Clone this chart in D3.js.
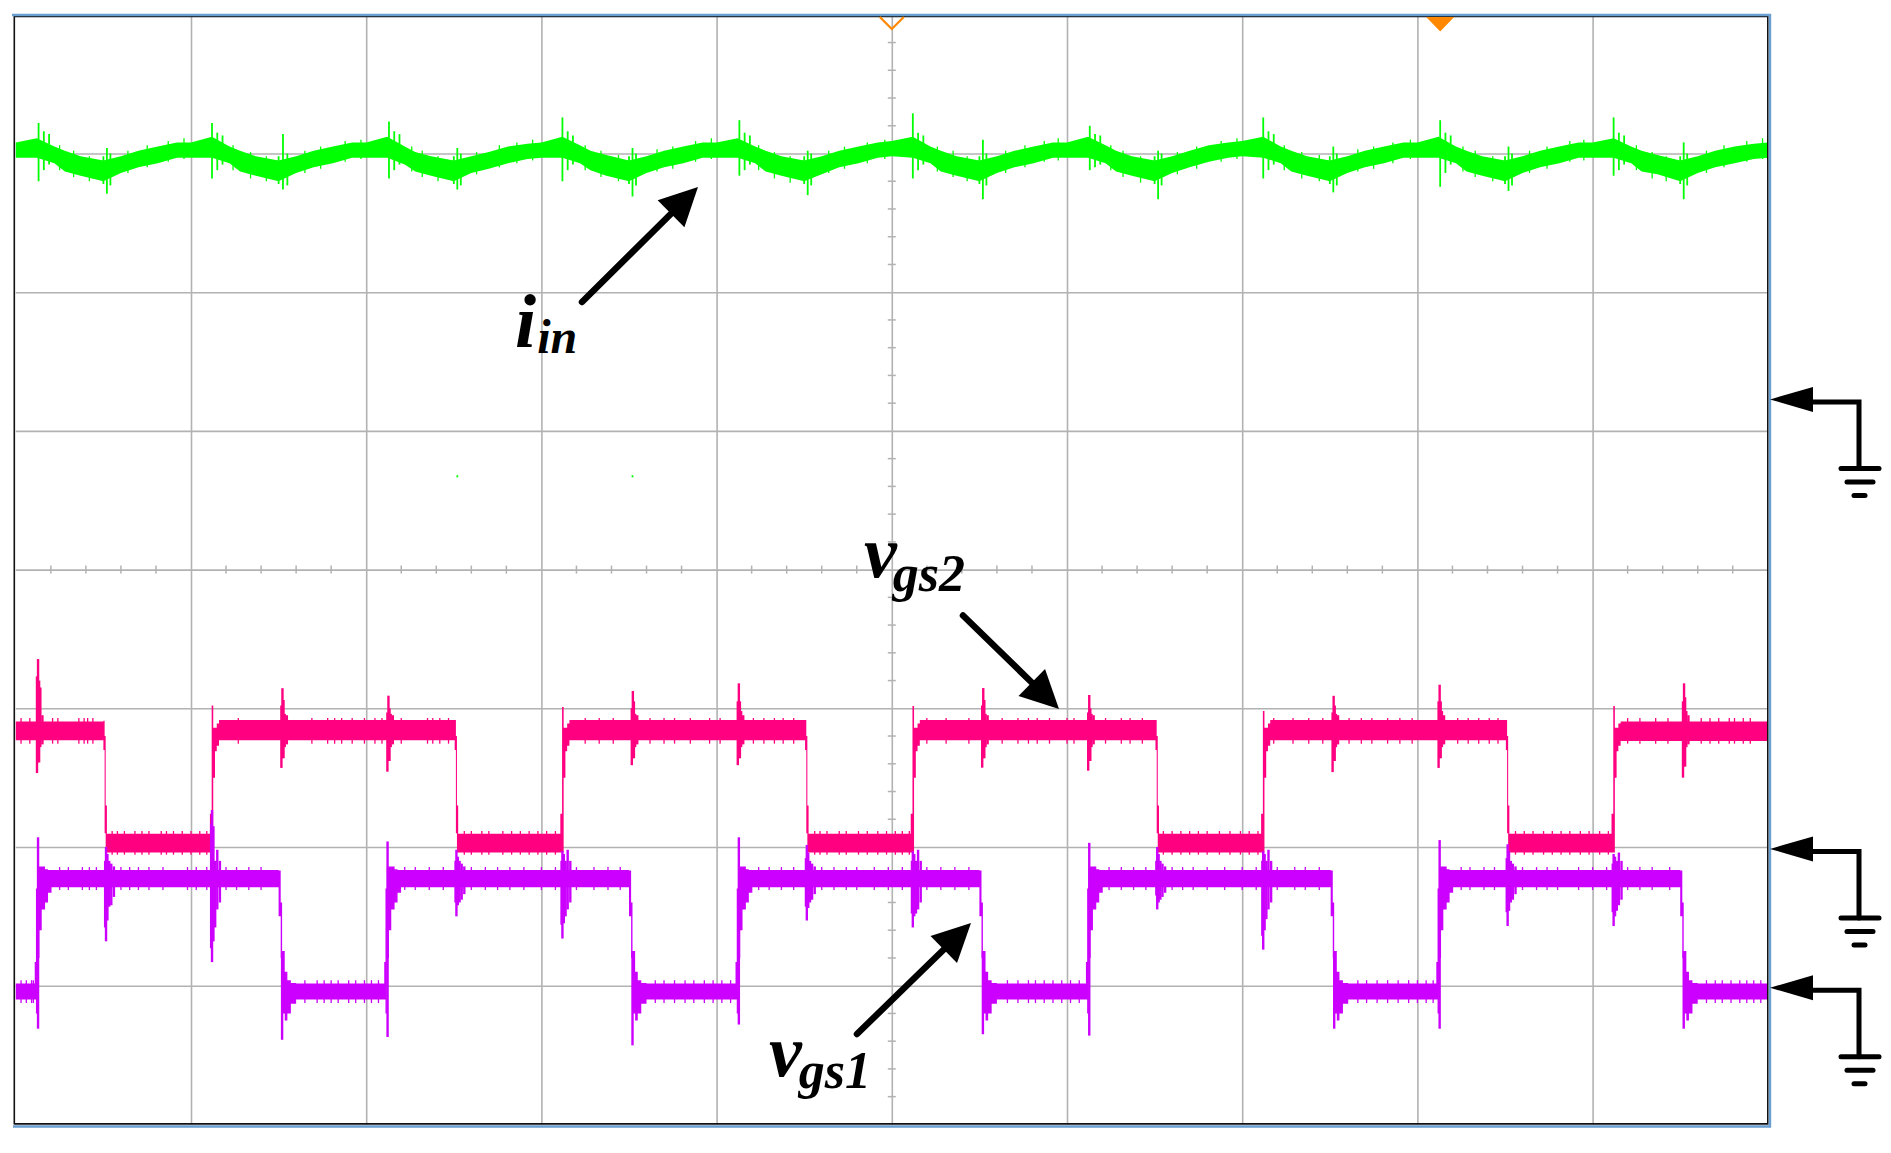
<!DOCTYPE html>
<html>
<head>
<meta charset="utf-8">
<script src="https://cdn.jsdelivr.net/npm/d3@7"></script>
<style>
  body { margin: 0; background: #fff; }
  text { font-family: "Liberation Serif", serif; font-weight: bold; font-style: italic; fill: #000; }
</style>
</head>
<body>
<svg id="scope"></svg>
<script>
// all values are in scope divisions: time 0..10, level -4..4 around the centre line

// iin envelope
const greenTime = [
  0,.12,.22,.28,.37,.50,.60,.70,.81,.92,
  1,1.12,1.22,1.28,1.37,1.50,1.60,1.70,1.81,1.92,
  2,2.12,2.22,2.28,2.37,2.50,2.60,2.70,2.81,2.92,
  3,3.12,3.22,3.28,3.37,3.50,3.60,3.70,3.81,3.92,
  4,4.12,4.22,4.28,4.37,4.50,4.60,4.70,4.81,4.92,
  5,5.12,5.22,5.28,5.37,5.50,5.60,5.70,5.81,5.92,
  6,6.12,6.22,6.28,6.37,6.50,6.60,6.70,6.81,6.92,
  7,7.12,7.22,7.28,7.37,7.50,7.60,7.70,7.81,7.92,
  8,8.12,8.22,8.28,8.37,8.50,8.60,8.70,8.81,8.92,
  9,9.12,9.22,9.28,9.37,9.50,9.60,9.70,9.81,9.92, 10
];
const greenTop = [
  3.08,3.11,3.05,3.02,2.98,2.95,2.98,3.02,3.05,3.08,
  3.08,3.12,3.05,3.02,2.98,2.95,2.98,3.02,3.05,3.08,
  3.08,3.12,3.05,3.01,2.98,2.95,2.98,3.01,3.05,3.07,
  3.08,3.12,3.06,3.02,2.99,2.95,2.98,3.02,3.05,3.08,
  3.08,3.11,3.05,3.02,2.98,2.95,2.98,3.02,3.05,3.08,
  3.09,3.12,3.05,3.02,2.98,2.95,2.98,3.02,3.05,3.08,
  3.08,3.12,3.06,3.02,2.98,2.95,2.98,3.02,3.06,3.08,
  3.09,3.12,3.05,3.02,2.98,2.95,2.98,3.02,3.05,3.08,
  3.08,3.12,3.05,3.02,2.98,2.95,2.98,3.02,3.05,3.08,
  3.08,3.11,3.05,3.02,2.99,2.95,2.98,3.02,3.05,3.07, 3.08
];
const greenBottom = [
  2.97,2.97,2.93,2.87,2.84,2.80,2.86,2.90,2.93,2.97,
  2.97,2.97,2.93,2.87,2.84,2.80,2.86,2.90,2.93,2.97,
  2.97,2.97,2.92,2.87,2.84,2.80,2.86,2.89,2.93,2.96,
  2.97,2.97,2.93,2.88,2.84,2.80,2.86,2.90,2.93,2.97,
  2.97,2.97,2.93,2.87,2.84,2.80,2.85,2.90,2.93,2.97,
  2.98,2.97,2.93,2.87,2.84,2.80,2.86,2.90,2.93,2.97,
  2.97,2.97,2.93,2.87,2.84,2.80,2.86,2.90,2.94,2.97,
  2.98,2.97,2.93,2.87,2.84,2.80,2.86,2.90,2.93,2.97,
  2.97,2.97,2.93,2.87,2.84,2.80,2.86,2.90,2.93,2.97,
  2.97,2.97,2.93,2.87,2.85,2.80,2.86,2.90,2.93,2.96, 2.97
];

// iin spikes at each switching edge, with the smaller teeth beside them and two stray dots
const greenSpikeTime = [
  .13,.16,.19,.50,.52,.54, 1.12,1.15,1.18,1.50,1.525,1.55, 2.13,2.16,2.19,2.50,2.52,2.54,
  3.12,3.15,3.18,3.50,3.52,3.54, 4.13,4.16,4.19,4.50,4.52,4.54, 5.12,5.15,5.18,5.50,5.52,5.54,
  6.13,6.16,6.19,6.50,6.52,6.54, 7.12,7.15,7.18,7.50,7.52,7.54, 8.13,8.16,8.19,8.50,8.52,8.54,
  9.12,9.15,9.18,9.50,9.52,9.54, 2.52,3.52
];
const greenSpikeTop = [
  3.22,3.16,3.14,2.98,3.04,3.00, 3.22,3.15,3.13,2.98,3.14,3.00, 3.23,3.16,3.14,2.98,3.04,3.00,
  3.26,3.16,3.13,2.98,3.04,3.00, 3.24,3.15,3.13,2.98,3.02,3.00, 3.29,3.15,3.13,2.98,3.10,3.00,
  3.20,3.14,3.13,2.98,3.02,3.00, 3.26,3.16,3.14,2.98,3.05,3.00, 3.24,3.15,3.13,2.98,3.05,3.00,
  3.26,3.15,3.13,2.98,3.08,3.00, .68,.68
];
const greenSpikeBottom = [
  2.80,2.88,2.92,2.78,2.71,2.77, 2.82,2.88,2.92,2.78,2.74,2.77, 2.82,2.88,2.92,2.78,2.74,2.77,
  2.80,2.88,2.92,2.78,2.69,2.77, 2.84,2.88,2.92,2.78,2.70,2.77, 2.82,2.88,2.92,2.78,2.67,2.77,
  2.88,2.90,2.92,2.78,2.67,2.77, 2.82,2.88,2.92,2.78,2.72,2.77, 2.76,2.86,2.92,2.78,2.73,2.77,
  2.84,2.88,2.92,2.78,2.67,2.77, .665,.665
];

// iin noise along the slopes
const greenToothTime = [
  .25,.33,.42,.64,.75,.87,.96, 1.24,1.34,1.43,1.65,1.74,1.88,1.97, 2.26,2.32,2.41,2.63,2.76,2.86,2.95,
  3.25,3.34,3.44,3.66,3.75,3.88,3.97, 4.24,4.33,4.42,4.64,4.73,4.86,4.96, 5.26,5.35,5.43,5.65,5.76,5.87,5.95,
  6.25,6.32,6.42,6.63,6.74,6.88,6.97, 7.24,7.34,7.44,7.66,7.75,7.86,7.96, 8.26,8.33,8.43,8.64,8.74,8.87,8.95,
  9.25,9.34,9.42,9.65,9.75,9.88,9.97
];
const greenToothTop = [
  3.06,3.02,2.98,3.02,3.06,3.09,3.11, 3.06,3.01,2.98,3.02,3.05,3.09,3.10, 3.05,3.02,2.98,3.01,3.06,3.08,3.10,
  3.06,3.02,2.99,3.03,3.05,3.09,3.11, 3.06,3.01,2.98,3.02,3.05,3.08,3.10, 3.05,3.02,2.98,3.02,3.06,3.09,3.11,
  3.06,3.02,2.98,3.01,3.05,3.09,3.11, 3.06,3.01,2.99,3.03,3.05,3.08,3.10, 3.05,3.02,2.98,3.02,3.05,3.09,3.10,
  3.06,3.01,2.98,3.02,3.06,3.09,3.11
];
const greenToothBottom = [
  2.88,2.83,2.80,2.86,2.90,2.94,2.96, 2.88,2.82,2.80,2.86,2.89,2.94,2.96, 2.87,2.83,2.80,2.85,2.90,2.93,2.95,
  2.88,2.83,2.80,2.87,2.89,2.94,2.96, 2.88,2.82,2.79,2.86,2.89,2.93,2.96, 2.87,2.83,2.80,2.86,2.90,2.94,2.95,
  2.88,2.83,2.79,2.85,2.89,2.94,2.96, 2.88,2.82,2.80,2.87,2.89,2.93,2.96, 2.87,2.83,2.80,2.86,2.89,2.94,2.95,
  2.88,2.82,2.80,2.86,2.90,2.94,2.96
];

// vgs2 envelope
const pinkTime = [
  0, .50,.507,.513,.52, 1.108,1.118,1.127,1.137,1.147,1.16,
  2.505,2.512,2.518,2.525, 3.108,3.118,3.127,3.137,3.147,3.16,
  4.505,4.512,4.518,4.525, 5.108,5.118,5.127,5.137,5.147,5.16,
  6.505,6.512,6.518,6.525, 7.108,7.118,7.127,7.137,7.147,7.16,
  8.505,8.512,8.518,8.525, 9.108,9.118,9.127,9.137,9.147,9.16, 10
];
const pinkTop = [
  -1.095, -1.09,-1.20,-1.70,-1.905, -1.76,-.98,-1.14,-1.14,-1.11,-1.085,
  -1.085,-1.20,-1.70,-1.905, -1.76,-.99,-1.14,-1.14,-1.11,-1.085,
  -1.085,-1.20,-1.70,-1.905, -1.76,-.983,-1.14,-1.14,-1.11,-1.085,
  -1.085,-1.20,-1.70,-1.905, -1.76,-1.02,-1.14,-1.14,-1.11,-1.085,
  -1.085,-1.20,-1.70,-1.905, -1.76,-.983,-1.14,-1.14,-1.11,-1.095, -1.095
];
const pinkBottom = [
  -1.23, -1.30,-1.90,-2.04,-2.04, -2.04,-2.04,-1.50,-1.31,-1.27,-1.23,
  -1.30,-1.90,-2.04,-2.04, -2.04,-2.04,-1.50,-1.31,-1.27,-1.23,
  -1.30,-1.90,-2.04,-2.04, -2.04,-2.04,-1.50,-1.31,-1.27,-1.23,
  -1.30,-1.90,-2.04,-2.04, -2.04,-2.04,-1.50,-1.31,-1.27,-1.23,
  -1.30,-1.90,-2.04,-2.04, -2.04,-2.04,-1.50,-1.31,-1.27,-1.235, -1.235
];

// vgs2 spikes, one row for each spike with its decay
const pinkSpikeTime = [
  .121,.127,.133,.140,.152,
  1.516,1.522,1.528,1.535,1.547,
  2.121,2.127,2.133,2.140,2.152,
  3.516,3.522,3.528,3.535,3.547,
  4.121,4.127,4.133,4.140,4.152,
  5.516,5.522,5.528,5.535,5.547,
  6.121,6.127,6.133,6.140,6.152,
  7.516,7.522,7.528,7.535,7.547,
  8.121,8.127,8.133,8.140,8.152,
  9.516,9.522,9.528,9.535,9.547
];
const pinkSpikeTop = [
  -.77,-.645,-.80,-.85,-1.05,
  -.98,-.855,-.94,-1.04,-1.05,
  -1.03,-.909,-1.0,-1.04,-1.05,
  -1.0,-.875,-.95,-1.04,-1.05,
  -.95,-.82,-.95,-1.02,-1.05,
  -.98,-.854,-.94,-1.04,-1.05,
  -1.03,-.904,-1.0,-1.04,-1.05,
  -1.03,-.91,-.98,-1.04,-1.05,
  -.95,-.83,-.95,-1.02,-1.05,
  -.95,-.82,-.92,-1.02,-1.05
];
const pinkSpikeBottom = [
  -1.467,-1.39,-1.39,-1.28,-1.26,
  -1.43,-1.36,-1.36,-1.28,-1.26,
  -1.457,-1.38,-1.38,-1.28,-1.26,
  -1.41,-1.36,-1.36,-1.28,-1.26,
  -1.41,-1.36,-1.36,-1.28,-1.26,
  -1.428,-1.36,-1.36,-1.28,-1.26,
  -1.45,-1.38,-1.38,-1.28,-1.26,
  -1.46,-1.38,-1.38,-1.28,-1.26,
  -1.43,-1.36,-1.36,-1.28,-1.26,
  -1.50,-1.42,-1.42,-1.28,-1.26
];

// vgs1 envelope
const purpleTime = [
  0, .108,.115,.123,.135,.148,.167,.184,.204,
  1.50,1.512,1.52,1.535,1.55,1.57,1.60,
  2.103,2.11,2.118,2.13,2.143,2.162,2.179,2.199,
  3.50,3.512,3.52,3.535,3.55,3.57,3.60,
  4.108,4.115,4.123,4.135,4.148,4.167,4.184,4.204,
  5.50,5.512,5.52,5.535,5.55,5.57,5.60,
  6.108,6.115,6.123,6.135,6.148,6.167,6.184,6.204,
  7.505,7.517,7.525,7.54,7.555,7.575,7.605,
  8.108,8.115,8.123,8.135,8.148,8.167,8.184,8.204,
  9.50,9.512,9.52,9.535,9.55,9.57,9.60, 10
];
const purpleTop = [
  -2.985, -2.83,-2.30,-2.14,-2.14,-2.14,-2.16,-2.165,-2.165,
  -2.17,-2.40,-2.75,-2.90,-2.96,-2.98,-2.985,
  -2.83,-2.30,-2.14,-2.14,-2.14,-2.16,-2.165,-2.165,
  -2.17,-2.40,-2.75,-2.90,-2.96,-2.98,-2.985,
  -2.83,-2.30,-2.14,-2.14,-2.14,-2.16,-2.165,-2.165,
  -2.17,-2.40,-2.75,-2.90,-2.96,-2.98,-2.985,
  -2.83,-2.30,-2.14,-2.14,-2.14,-2.16,-2.165,-2.165,
  -2.17,-2.40,-2.75,-2.90,-2.96,-2.98,-2.985,
  -2.83,-2.30,-2.14,-2.14,-2.14,-2.16,-2.165,-2.165,
  -2.17,-2.40,-2.75,-2.90,-2.96,-2.98,-2.985, -2.985
];
const purpleBottom = [
  -3.10, -3.10,-3.20,-2.80,-2.60,-2.45,-2.40,-2.33,-2.29,
  -2.50,-2.80,-3.20,-3.25,-3.20,-3.13,-3.10,
  -3.10,-3.20,-2.80,-2.60,-2.45,-2.40,-2.33,-2.29,
  -2.50,-2.80,-3.20,-3.25,-3.20,-3.13,-3.10,
  -3.10,-3.20,-2.80,-2.60,-2.45,-2.40,-2.33,-2.29,
  -2.50,-2.80,-3.20,-3.25,-3.20,-3.13,-3.10,
  -3.10,-3.20,-2.80,-2.60,-2.45,-2.40,-2.33,-2.29,
  -2.50,-2.80,-3.20,-3.25,-3.20,-3.13,-3.10,
  -3.10,-3.20,-2.80,-2.60,-2.45,-2.40,-2.33,-2.29,
  -2.50,-2.80,-3.20,-3.25,-3.20,-3.13,-3.10, -3.10
];

// vgs1 spikes: the rising and falling overshoots, then the ringing at each vgs2 edge
const purpleSpikeTime = [
  .127,2.122,4.127,6.127,8.127, 1.52,3.52,5.52,7.525,9.52,
  .51,.515,.523,.533,.545,.56,
  1.115,1.12,1.128,1.138,1.15,1.165,
  2.51,2.515,2.523,2.533,2.545,2.56,
  3.115,3.12,3.128,3.138,3.15,3.165,
  4.51,4.515,4.523,4.533,4.545,4.56,
  5.115,5.12,5.128,5.138,5.15,5.165,
  6.51,6.515,6.523,6.533,6.545,6.56,
  7.115,7.12,7.128,7.138,7.15,7.165,
  8.51,8.515,8.523,8.533,8.545,8.56,
  9.115,9.12,9.128,9.138,9.15,9.165
];
const purpleSpikeTop = [
  -1.93,-1.96,-1.93,-1.97,-1.95, -2.75,-2.75,-2.75,-2.75,-2.75,
  -2.10,-2.0,-2.05,-2.10,-2.12,-2.14,
  -1.83,-1.733,-1.85,-2.10,-2.02,-2.10,
  -2.10,-2.02,-2.07,-2.10,-2.12,-2.14,
  -2.10,-2.03,-2.05,-2.10,-2.02,-2.10,
  -2.08,-1.985,-2.04,-2.10,-2.12,-2.14,
  -2.10,-2.03,-2.05,-2.10,-2.02,-2.10,
  -2.10,-2.0,-2.05,-2.10,-2.12,-2.14,
  -2.10,-2.03,-2.05,-2.10,-2.02,-2.10,
  -2.08,-1.98,-2.03,-2.10,-2.12,-2.14,
  -2.12,-2.05,-2.07,-2.10,-2.04,-2.10
];
const purpleSpikeBottom = [
  -3.31,-3.37,-3.28,-3.36,-3.31, -3.39,-3.43,-3.35,-3.31,-3.31,
  -2.58,-2.68,-2.53,-2.43,-2.42,-2.36,
  -2.73,-2.83,-2.68,-2.58,-2.45,-2.40,
  -2.40,-2.50,-2.42,-2.40,-2.38,-2.34,
  -2.56,-2.66,-2.55,-2.50,-2.45,-2.40,
  -2.43,-2.53,-2.44,-2.40,-2.38,-2.34,
  -2.48,-2.58,-2.50,-2.48,-2.45,-2.40,
  -2.35,-2.45,-2.40,-2.38,-2.36,-2.33,
  -2.64,-2.74,-2.60,-2.52,-2.45,-2.40,
  -2.47,-2.57,-2.46,-2.40,-2.38,-2.34,
  -2.47,-2.57,-2.50,-2.46,-2.42,-2.38
];

// noise teeth along the flat parts of the two gate traces
const pinkHighTeeth = [
  .03,.08,.21,.24,.36,.39,.41,.44,
  1.27,1.69,1.78,1.82,1.86,1.92,1.99,2.05,2.09,2.2,2.35,2.38,2.42,2.47,
  3.25,3.33,3.41,3.62,3.7,3.76,3.85,3.96,4.02,4.21,4.27,4.33,4.38,4.44,
  5.2,5.31,5.44,5.63,5.72,5.78,5.83,5.9,6.0,6.04,6.22,6.31,6.36,6.43,
  7.18,7.29,7.38,7.46,7.61,7.68,7.74,7.83,7.9,7.97,8.23,8.29,8.35,8.41,8.46,
  9.2,9.27,9.36,9.43,9.62,9.67,9.72,9.78,9.81,9.86,9.9
];
const pinkLowTeeth = [
  .55,.58,.62,.68,.72,.76,.83,.86,.9,.95,1.0,1.05,1.09,
  2.56,2.6,2.66,2.7,2.78,2.83,2.88,2.93,2.98,3.03,3.08,
  4.56,4.59,4.63,4.7,4.74,4.81,4.86,4.92,4.97,5.02,5.06,5.1,
  6.55,6.6,6.65,6.7,6.75,6.8,6.87,6.93,6.99,7.04,7.09,
  8.56,8.61,8.66,8.72,8.77,8.82,8.87,8.93,8.98,9.04,9.09
];
const purpleHighTeeth = [
  .25,.3,.38,.42,.46,.6,.65,.7,.76,.84,.98,1.03,1.09,1.2,1.26,1.33,1.4,
  2.22,2.28,2.36,2.44,2.6,2.68,2.75,2.82,2.9,3.0,3.08,3.2,3.3,3.38,3.45,
  4.24,4.3,4.37,4.44,4.6,4.67,4.74,4.8,4.9,4.98,5.06,5.2,5.28,5.36,5.44,
  6.24,6.31,6.38,6.45,6.6,6.66,6.72,6.8,6.9,7.0,7.08,7.2,7.3,7.36,7.44,
  8.25,8.3,8.38,8.44,8.6,8.68,8.74,8.8,8.92,9.0,9.08,9.2,9.27,9.34,9.44
];
const purpleLowTeeth = [
  .03,.06,.09,.1,
  1.65,1.72,1.76,1.8,1.84,1.9,1.94,1.99,2.03,2.07,
  3.65,3.7,3.76,3.82,3.87,3.93,3.98,4.03,4.08,
  5.66,5.72,5.78,5.82,5.87,5.92,5.97,6.02,6.07,
  7.66,7.71,7.77,7.83,7.89,7.95,8.0,8.05,8.09,
  9.65,9.7,9.74,9.79,9.84,9.88,9.92,9.96
];
const pinkHighRange = [-1.07, -1.255];
const pinkLowRange = [-1.885, -2.055];
const purpleHighRange = [-2.145, -2.31];
const purpleLowRange = [-2.96, -3.125];

// ground reference of each channel, and the two trigger markers at the top
const groundLevels = [1.227, -2.014, -3.015];
const triggerTimes = [5, 8.13];

const width = 1891, height = 1153;
const plot = { left: 15.8, right: 1767.8, top: 14.8, bottom: 1124.4 };

const x = d3.scaleLinear().domain([0, 10]).range([plot.left, plot.right]);
const y = d3.scaleLinear().domain([-4, 4]).range([plot.bottom, plot.top]);

const svg = d3.select('#scope').attr('width', width).attr('height', height);

// graticule
const gridColor = '#b2b2b2';
const xGrid = svg.append('g').attr('transform', `translate(0,${plot.bottom})`)
  .call(d3.axisBottom(x).tickValues(d3.range(1, 10)).tickSize(-(plot.bottom - plot.top)).tickFormat(''));
const yGrid = svg.append('g').attr('transform', `translate(${plot.left},0)`)
  .call(d3.axisLeft(y).tickValues(d3.range(-3, 4)).tickSize(-(plot.right - plot.left)).tickFormat(''));
[xGrid, yGrid].forEach(g => {
  g.select('.domain').remove();
  g.selectAll('line').attr('stroke', gridColor).attr('stroke-width', 1.6);
});

// minor ticks on the two centre lines
const minorX = d3.range(1, 50).filter(i => i % 5 !== 0).map(i => i / 5);
const minorY = d3.range(-19, 20).filter(i => i % 5 !== 0).map(i => i / 5);
svg.append('g').selectAll('line').data(minorX).join('line')
  .attr('x1', d => x(d)).attr('x2', d => x(d))
  .attr('y1', y(0) - 4).attr('y2', y(0) + 4)
  .attr('stroke', gridColor).attr('stroke-width', 1.5);
svg.append('g').selectAll('line').data(minorY).join('line')
  .attr('x1', x(5) - 4).attr('x2', x(5) + 4)
  .attr('y1', d => y(d)).attr('y2', d => y(d))
  .attr('stroke', gridColor).attr('stroke-width', 1.5);

function drawBars(g, color, barWidth, time, top, bottom) {
  const rows = time.map((t, i) => ({ t: t, top: top[i], bottom: bottom[i] }));
  g.append('g').selectAll('line').data(rows).join('line')
    .attr('x1', d => x(d.t)).attr('x2', d => x(d.t))
    .attr('y1', d => y(d.top)).attr('y2', d => y(d.bottom))
    .attr('stroke', color).attr('stroke-width', barWidth);
}

function drawTrace(color, curve, spikeWidth, time, top, bottom, spikeTime, spikeTop, spikeBottom, teeth) {
  const rows = time.map((t, i) => ({ t: t, top: top[i], bottom: bottom[i] }));
  const area = d3.area()
    .curve(curve)
    .x(d => x(d.t))
    .y0(d => y(d.bottom))
    .y1(d => y(d.top));
  const g = svg.append('g');
  g.append('path').attr('d', area(rows)).attr('fill', color);
  drawBars(g, color, spikeWidth, spikeTime, spikeTop, spikeBottom);

  (teeth || []).forEach(set => {
    g.append('g').selectAll('line').data(set.times).join('line')
      .attr('x1', d => x(d)).attr('x2', d => x(d))
      .attr('y1', y(set.range[0])).attr('y2', y(set.range[1]))
      .attr('stroke', color).attr('stroke-width', 1.3);
  });
  return g;
}

const greenTrace = drawTrace('#00ff00', d3.curveLinear, 1.8, greenTime, greenTop, greenBottom, greenSpikeTime, greenSpikeTop, greenSpikeBottom);
drawBars(greenTrace, '#00ff00', 1.3, greenToothTime, greenToothTop, greenToothBottom);
drawTrace('#ff0080', d3.curveStepAfter, 2.4, pinkTime, pinkTop, pinkBottom, pinkSpikeTime, pinkSpikeTop, pinkSpikeBottom,
  [{ times: pinkHighTeeth, range: pinkHighRange }, { times: pinkLowTeeth, range: pinkLowRange }]);
drawTrace('#cc00ff', d3.curveStepAfter, 2.4, purpleTime, purpleTop, purpleBottom, purpleSpikeTime, purpleSpikeTop, purpleSpikeBottom,
  [{ times: purpleHighTeeth, range: purpleHighRange }, { times: purpleLowTeeth, range: purpleLowRange }]);

// frame: dark inner line with the blue edge of the screenshot round it
svg.append('path')
  .attr('d', `M${plot.left - 1.5},${plot.bottom} V16.5 H${plot.right} V${plot.bottom - 0.5} H${plot.left - 1.5}`)
  .attr('fill', 'none').attr('stroke', '#111').attr('stroke-width', 1.6);
svg.append('path')
  .attr('d', `M12,15 H1770 V1126.5 H13`)
  .attr('fill', 'none').attr('stroke', '#6a9fd2').attr('stroke-width', 2.4);

// trigger markers
svg.append('path')
  .attr('d', `M${x(triggerTimes[0]) - 12},17 L${x(triggerTimes[0])},29 L${x(triggerTimes[0]) + 12},17`)
  .attr('fill', 'none').attr('stroke', '#ff8800').attr('stroke-width', 2.2);
svg.append('path')
  .attr('d', `M${x(triggerTimes[1]) - 14},17 L${x(triggerTimes[1])},31.5 L${x(triggerTimes[1]) + 14},17 Z`)
  .attr('fill', '#ff8800');

// ground symbols on the right
groundLevels.forEach(level => {
  const gy = y(level);
  const g = svg.append('g').attr('stroke', '#000').attr('stroke-linecap', 'round').attr('fill', 'none');
  g.append('path').attr('d', `M1770,${gy} L1813,${gy - 12.5} V${gy + 12.5} Z`).attr('fill', '#000').attr('stroke', 'none');
  g.append('path').attr('d', `M1812,${gy + 2.5} H1859 V${gy + 69}`).attr('stroke-width', 5);
  g.append('path').attr('d', `M1841,${gy + 69} H1879`).attr('stroke-width', 5);
  g.append('path').attr('d', `M1847,${gy + 82.5} H1873`).attr('stroke-width', 5);
  g.append('path').attr('d', `M1854,${gy + 96} H1865`).attr('stroke-width', 5);
});

// annotation arrows
function arrow(x0, y0, x1, y1) {
  const a = Math.atan2(y1 - y0, x1 - x0);
  const head = 38, half = 19;
  const bx = x1 - head * Math.cos(a), by = y1 - head * Math.sin(a);
  svg.append('line').attr('x1', x0).attr('y1', y0).attr('x2', bx).attr('y2', by)
    .attr('stroke', '#000').attr('stroke-width', 6.5).attr('stroke-linecap', 'round');
  svg.append('path')
    .attr('d', `M${x1},${y1} L${bx - half * Math.sin(a)},${by + half * Math.cos(a)} L${bx + half * Math.sin(a)},${by - half * Math.cos(a)} Z`)
    .attr('fill', '#000');
}
arrow(582, 302, 698, 187);
arrow(963, 615.5, 1059, 709);
arrow(857, 1034, 971, 923);

// labels
function label(lx, ly, main, sub, dx, dy, mainSize, subSize) {
  const t = svg.append('text').attr('x', lx).attr('y', ly).attr('font-size', mainSize).text(main);
  t.append('tspan').attr('dx', dx).attr('dy', dy).attr('font-size', subSize).text(sub);
}
label(515, 347, 'i', 'in', 1, 6, 76, 48);
label(864, 577, 'v', 'gs2', -4, 14, 74, 52);
label(769, 1076, 'v', 'gs1', -3, 12, 74, 52);
</script>
</body>
</html>
